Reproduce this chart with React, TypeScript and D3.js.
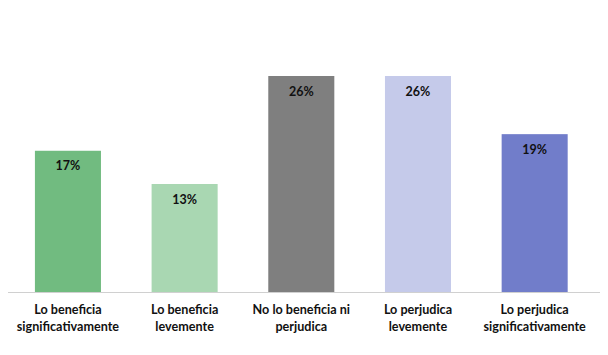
import React from "react";
import * as d3 from "d3";

const categories: string[][] = [
  ["Lo beneficia", "significativamente"],
  ["Lo beneficia", "levemente"],
  ["No lo beneficia ni", "perjudica"],
  ["Lo perjudica", "levemente"],
  ["Lo perjudica", "significativamente"],
];
const values = [17, 13, 26, 26, 19];
const colors = ["#71BB80", "#A9D7B2", "#7F7F7F", "#C5CAEA", "#717DCA"];

export default function App() {
  const W = 608, H = 355;
  const x = d3.scaleBand<number>().domain(d3.range(values.length)).range([9.6, 593]).paddingInner(0.434).paddingOuter(0.217);
  const y = d3.scaleLinear().domain([0, 26]).range([292, 76]);
  const font = "Lato, 'Open Sans', sans-serif";
  return (
    <svg width={W} height={H} style={{ position: "absolute", left: 0, top: 0, background: "#fff" }}>
      {values.map((v, i) => (
        <g key={i}>
          <rect x={x(i)} y={y(v)} width={x.bandwidth()} height={y(0) - y(v)} fill={colors[i]} />
          <text x={x(i)! + x.bandwidth() / 2} y={y(v) + 19.5} textAnchor="middle" fontFamily={font} fontWeight="bold" fontSize={12.5} fill="#111">{v}%</text>
        </g>
      ))}
      <line x1={8} x2={600} y1={292.5} y2={292.5} stroke="#D0D0D0" strokeWidth={1} />
      {categories.map((lines, i) => (
        <text key={i} x={x(i)! + x.bandwidth() / 2} textAnchor="middle" fontFamily={font} fontWeight="bold" fontSize={12.6} fill="#111">
          {lines.map((l, j) => (
            <tspan key={j} x={x(i)! + x.bandwidth() / 2} y={314 + j * 16.5}>{l}</tspan>
          ))}
        </text>
      ))}
    </svg>
  );
}
